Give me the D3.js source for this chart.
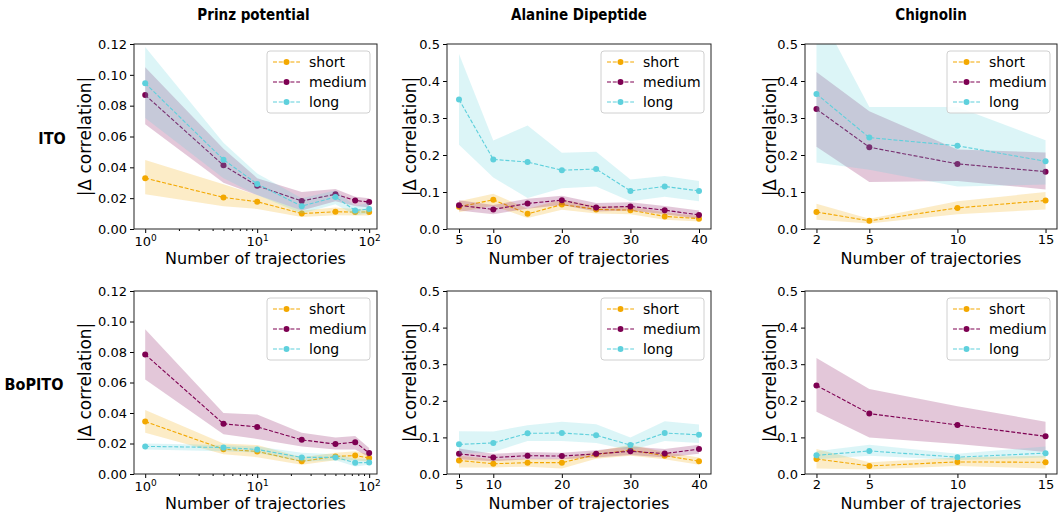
<!DOCTYPE html>
<html>
<head>
<meta charset="utf-8">
<script src="https://cdn.jsdelivr.net/npm/d3@7"></script>
<style>
  body { margin: 0; background: #fff; }
  text { font-family: "DejaVu Sans", sans-serif; fill: #000; }
</style>
</head>
<body>
<svg id="chart" width="1058" height="512"></svg>
<script>
// categories / ticks
var seriesNames = ["short", "medium", "long"];
var seriesColors = ["#F3A800", "#7E0052", "#5ED0DC"];
var colTitles = ["Prinz potential", "Alanine Dipeptide", "Chignolin"];
var rowTitles = ["ITO", "BoPITO"];

var prinzX = [1, 5, 10, 25, 50, 75, 100];
var alanineX = [5, 10, 15, 20, 25, 30, 35, 40];
var chignolinX = [2, 5, 10, 15];

var prinzYTicks = [0, 0.02, 0.04, 0.06, 0.08, 0.10, 0.12];
var molYTicks = [0, 0.1, 0.2, 0.3, 0.4, 0.5];
var alanineXTicks = [5, 10, 20, 30, 40];
var chignolinXTicks = [2, 5, 10, 15];

// rows: short, medium, long
var itoPrinzMean = [
  [0.033, 0.0205, 0.0177, 0.0100, 0.0112, 0.0110, 0.0110],
  [0.0869, 0.0413, 0.0280, 0.0182, 0.0225, 0.0185, 0.0175],
  [0.0945, 0.0450, 0.0292, 0.0148, 0.0208, 0.0120, 0.0130]];
var itoPrinzLo = [
  [0.0225, 0.0148, 0.0130, 0.0078, 0.0090, 0.0088, 0.0088],
  [0.068, 0.030, 0.022, 0.012, 0.018, 0.015, 0.014],
  [0.072, 0.033, 0.022, 0.010, 0.016, 0.009, 0.010]];
var itoPrinzHi = [
  [0.0448, 0.029, 0.022, 0.012, 0.014, 0.013, 0.013],
  [0.105, 0.052, 0.033, 0.024, 0.026, 0.021, 0.020],
  [0.118, 0.056, 0.036, 0.020, 0.025, 0.015, 0.017]];

var boPrinzMean = [
  [0.0344, 0.0163, 0.0148, 0.0083, 0.0115, 0.0121, 0.0105],
  [0.0784, 0.0329, 0.0309, 0.0224, 0.0196, 0.0209, 0.0137],
  [0.0181, 0.0174, 0.0161, 0.0109, 0.0109, 0.0074, 0.0075]];
var boPrinzLo = [
  [0.027, 0.013, 0.011, 0.006, 0.009, 0.009, 0.008],
  [0.062, 0.026, 0.023, 0.018, 0.016, 0.016, 0.011],
  [0.016, 0.015, 0.014, 0.008, 0.009, 0.005, 0.006]];
var boPrinzHi = [
  [0.042, 0.020, 0.019, 0.011, 0.014, 0.015, 0.013],
  [0.095, 0.040, 0.039, 0.027, 0.024, 0.025, 0.017],
  [0.020, 0.019, 0.018, 0.014, 0.013, 0.010, 0.010]];

var itoAlanineMean = [
  [0.060, 0.079, 0.041, 0.066, 0.053, 0.051, 0.034, 0.028],
  [0.064, 0.053, 0.069, 0.078, 0.058, 0.061, 0.051, 0.038],
  [0.350, 0.188, 0.181, 0.159, 0.162, 0.103, 0.115, 0.103]];
var itoAlanineLo = [
  [0.045, 0.063, 0.030, 0.052, 0.042, 0.040, 0.025, 0.020],
  [0.050, 0.040, 0.055, 0.065, 0.047, 0.050, 0.040, 0.028],
  [0.228, 0.139, 0.084, 0.110, 0.115, 0.075, 0.087, 0.075]];
var itoAlanineHi = [
  [0.075, 0.095, 0.055, 0.080, 0.062, 0.060, 0.045, 0.035],
  [0.078, 0.065, 0.082, 0.090, 0.070, 0.072, 0.062, 0.050],
  [0.473, 0.239, 0.280, 0.206, 0.209, 0.134, 0.143, 0.130]];

var boAlanineMean = [
  [0.037, 0.028, 0.031, 0.031, 0.053, 0.065, 0.050, 0.035],
  [0.055, 0.045, 0.050, 0.049, 0.055, 0.062, 0.056, 0.068],
  [0.081, 0.085, 0.111, 0.112, 0.106, 0.079, 0.112, 0.107]];
var boAlanineLo = [
  [0.018, 0.018, 0.020, 0.015, 0.042, 0.050, 0.040, 0.025],
  [0.040, 0.035, 0.040, 0.040, 0.045, 0.052, 0.045, 0.055],
  [0.055, 0.060, 0.090, 0.090, 0.085, 0.065, 0.090, 0.085]];
var boAlanineHi = [
  [0.050, 0.040, 0.042, 0.042, 0.062, 0.080, 0.060, 0.045],
  [0.070, 0.055, 0.060, 0.058, 0.065, 0.075, 0.068, 0.080],
  [0.117, 0.116, 0.133, 0.143, 0.136, 0.100, 0.144, 0.135]];

var itoChignolinMean = [
  [0.046, 0.022, 0.057, 0.077],
  [0.324, 0.221, 0.176, 0.155],
  [0.365, 0.247, 0.225, 0.183]];
var itoChignolinLo = [
  [0.025, 0.015, 0.040, 0.053],
  [0.222, 0.127, 0.130, 0.107],
  [0.180, 0.160, 0.115, 0.120]];
var itoChignolinHi = [
  [0.068, 0.028, 0.075, 0.100],
  [0.424, 0.318, 0.215, 0.207],
  [0.600, 0.330, 0.330, 0.240]];

var boChignolinMean = [
  [0.041, 0.022, 0.033, 0.032],
  [0.242, 0.165, 0.134, 0.103],
  [0.051, 0.063, 0.046, 0.057]];
var boChignolinLo = [
  [0.015, 0.012, 0.022, 0.015],
  [0.170, 0.100, 0.082, 0.060],
  [0.040, 0.050, 0.038, 0.045]];
var boChignolinHi = [
  [0.068, 0.032, 0.045, 0.050],
  [0.317, 0.232, 0.185, 0.143],
  [0.062, 0.080, 0.055, 0.075]];

var svg = d3.select("#chart");

var cols = [{ left: 134, right: 377 }, { left: 447, right: 711 }, { left: 805, right: 1057 }];
var rows = [{ top: 44, bottom: 229 }, { top: 291, bottom: 474 }];
var ylabelX = [85, 410, 770];
var rowLabelX = [52, 34];

var panels = [
  { r: 0, c: 0, x: prinzX, mean: itoPrinzMean, lo: itoPrinzLo, hi: itoPrinzHi },
  { r: 0, c: 1, x: alanineX, mean: itoAlanineMean, lo: itoAlanineLo, hi: itoAlanineHi },
  { r: 0, c: 2, x: chignolinX, mean: itoChignolinMean, lo: itoChignolinLo, hi: itoChignolinHi },
  { r: 1, c: 0, x: prinzX, mean: boPrinzMean, lo: boPrinzLo, hi: boPrinzHi },
  { r: 1, c: 1, x: alanineX, mean: boAlanineMean, lo: boAlanineLo, hi: boAlanineHi },
  { r: 1, c: 2, x: chignolinX, mean: boChignolinMean, lo: boChignolinLo, hi: boChignolinHi }
];

var defs = svg.append("defs");

panels.forEach(function(p, i) {
  var col = cols[p.c], row = rows[p.r];
  var x, y, yTicks, yFmt;
  if (p.c === 0) {
    // 10^0 sits ~11px in from the left spine, same as matplotlib's 5% log margin
    x = d3.scaleLog().domain([Math.pow(10, -0.1), Math.pow(10, 2.07)]).range([col.left, col.right]);
    y = d3.scaleLinear().domain([0, 0.12]).range([row.bottom, row.top]);
    yTicks = prinzYTicks; yFmt = d3.format(".2f");
  } else if (p.c === 1) {
    x = d3.scaleLinear().domain([3.25, 41.75]).range([col.left, col.right]);
    y = d3.scaleLinear().domain([0, 0.5]).range([row.bottom, row.top]);
    yTicks = molYTicks; yFmt = d3.format(".1f");
  } else {
    x = d3.scaleLinear().domain([1.35, 15.65]).range([col.left, col.right]);
    y = d3.scaleLinear().domain([0, 0.5]).range([row.bottom, row.top]);
    yTicks = molYTicks; yFmt = d3.format(".1f");
  }

  defs.append("clipPath").attr("id", "clip" + i)
    .append("rect")
    .attr("x", col.left).attr("y", row.top)
    .attr("width", col.right - col.left).attr("height", row.bottom - row.top);

  var g = svg.append("g");
  var plot = g.append("g").attr("clip-path", "url(#clip" + i + ")");

  var area = d3.area()
    .x(function(d) { return x(d.x); })
    .y0(function(d) { return y(d.lo); })
    .y1(function(d) { return y(d.hi); });
  var line = d3.line()
    .x(function(d) { return x(d.x); })
    .y(function(d) { return y(d.m); });

  seriesNames.forEach(function(name, s) {
    var pts = p.x.map(function(xv, k) {
      return { x: xv, m: p.mean[s][k], lo: p.lo[s][k], hi: p.hi[s][k] };
    });
    plot.append("path").datum(pts)
      .attr("d", area)
      .attr("fill", seriesColors[s])
      .attr("fill-opacity", 0.22);
    plot.append("path").datum(pts)
      .attr("d", line)
      .attr("fill", "none")
      .attr("stroke", seriesColors[s])
      .attr("stroke-width", 1.1)
      .attr("stroke-dasharray", "4,1.8");
    plot.selectAll(null).data(pts).enter().append("circle")
      .attr("cx", function(d) { return x(d.x); })
      .attr("cy", function(d) { return y(d.m); })
      .attr("r", 3)
      .attr("fill", seriesColors[s]);
  });

  // axes
  var yAxis = d3.axisLeft(y).tickValues(yTicks).tickFormat(yFmt).tickSize(4).tickPadding(3);
  var ga = g.append("g").attr("transform", "translate(" + col.left + ",0)").call(yAxis);
  ga.select(".domain").remove();
  ga.selectAll("text").style("font-size", "13px").attr("fill", "#000");
  ga.selectAll("line").attr("stroke", "#000");

  var gx = g.append("g").attr("transform", "translate(0," + row.bottom + ")");
  if (p.c === 0) {
    var major = [1, 10, 100];
    var minor = [];
    [1, 10].forEach(function(b) { for (var m = 2; m <= 9; m++) minor.push(b * m); });
    gx.call(d3.axisBottom(x).tickValues(minor).tickSize(2).tickFormat(""));
    var gm = g.append("g").attr("transform", "translate(0," + row.bottom + ")")
      .call(d3.axisBottom(x).tickValues(major).tickSize(4).tickPadding(2).tickFormat(""));
    gm.select(".domain").remove();
    gm.selectAll("line").attr("stroke", "#000");
    gm.selectAll(".tick").each(function(d) {
      var t = d3.select(this).append("text")
        .attr("y", 17).attr("text-anchor", "middle").style("font-size", "13px");
      t.append("tspan").text("10");
      t.append("tspan").attr("dy", -5).style("font-size", "9px").text(Math.round(Math.log10(d)));
    });
  } else {
    var xt = p.c === 1 ? alanineXTicks : chignolinXTicks;
    gx.call(d3.axisBottom(x).tickValues(xt).tickSize(4).tickPadding(2));
    gx.selectAll("text").style("font-size", "13px").attr("fill", "#000");
  }
  gx.select(".domain").remove();
  gx.selectAll("line").attr("stroke", "#000");

  // frame
  g.append("rect")
    .attr("x", col.left).attr("y", row.top)
    .attr("width", col.right - col.left).attr("height", row.bottom - row.top)
    .attr("fill", "none").attr("stroke", "#222").attr("stroke-width", 1);

  // axis labels
  g.append("text")
    .attr("x", (col.left + col.right) / 2).attr("y", row.bottom + 35)
    .attr("text-anchor", "middle").style("font-size", "16px")
    .text("Number of trajectories");
  g.append("text")
    .attr("transform", "translate(" + ylabelX[p.c] + "," + ((row.top + row.bottom) / 2) + ") rotate(-90)")
    .attr("text-anchor", "middle").attr("dy", "0.35em").style("font-size", "17px")
    .text("|Δ correlation|");

  // legend
  var lw = 103, lh = 62;
  var lx = col.right - 7 - lw, ly = row.top + 7;
  var lg = g.append("g");
  lg.append("rect")
    .attr("x", lx).attr("y", ly).attr("width", lw).attr("height", lh)
    .attr("rx", 3).attr("fill", "#fff").attr("fill-opacity", 0.85)
    .attr("stroke", "#d0d0d0").attr("stroke-width", 1);
  seriesNames.forEach(function(name, s) {
    var yy = ly + 11 + s * 20;
    lg.append("line")
      .attr("x1", lx + 6).attr("x2", lx + 33).attr("y1", yy).attr("y2", yy)
      .attr("stroke", seriesColors[s]).attr("stroke-width", 1.1)
      .attr("stroke-dasharray", "4,1.8");
    lg.append("circle").attr("cx", lx + 19.5).attr("cy", yy).attr("r", 3)
      .attr("fill", seriesColors[s]);
    lg.append("text").attr("x", lx + 42).attr("y", yy).attr("dy", "0.35em")
      .style("font-size", "14px").text(name);
  });
});

// column titles
colTitles.forEach(function(t, c) {
  svg.append("text")
    .attr("x", (cols[c].left + cols[c].right) / 2 + (c === 0 ? -2 : 0)).attr("y", 20)
    .attr("text-anchor", "middle")
    .style("font-family", "'DejaVu Sans Condensed', 'DejaVu Sans', sans-serif")
    .style("font-stretch", "condensed")
    .style("font-weight", "bold").style("font-size", "15px")
    .text(t);
});

// row titles
rowTitles.forEach(function(t, r) {
  svg.append("text")
    .attr("x", rowLabelX[r]).attr("y", (rows[r].top + rows[r].bottom) / 2 + 2)
    .attr("dy", "0.35em").attr("text-anchor", "middle")
    .style("font-family", "'DejaVu Sans Condensed', 'DejaVu Sans', sans-serif")
    .style("font-stretch", "condensed")
    .style("font-weight", "bold").style("font-size", "16px")
    .text(t);
});
</script>
</body>
</html>
